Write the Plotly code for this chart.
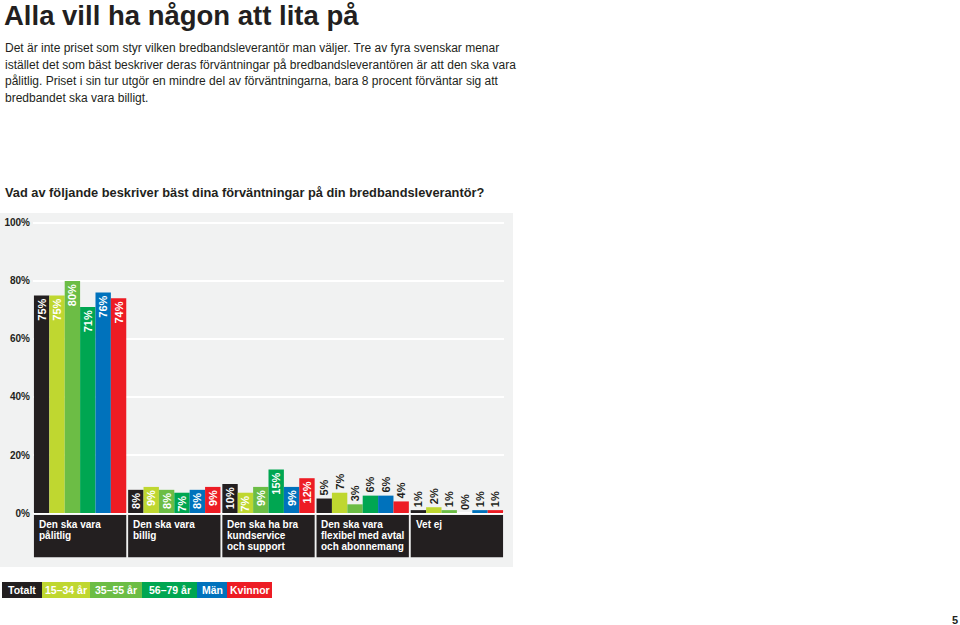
import plotly.graph_objects as go

# ---------------- data ----------------
categories = [
    "Den ska vara pålitlig",
    "Den ska vara billig",
    "Den ska ha bra kundservice och support",
    "Den ska vara flexibel med avtal och abonnemang",
    "Vet ej",
]
category_lines = [
    ["Den ska vara", "pålitlig"],
    ["Den ska vara", "billig"],
    ["Den ska ha bra", "kundservice", "och support"],
    ["Den ska vara", "flexibel med avtal", "och abonnemang"],
    ["Vet ej"],
]
series_names = ["Totalt", "15–34 år", "35–55 år", "56–79 år", "Män", "Kvinnor"]
totalt = [75, 8, 10, 5, 1]
age_15_34 = [75, 9, 7, 7, 2]
age_35_55 = [80, 8, 9, 3, 1]
age_56_79 = [71, 7, 15, 6, 0]
man = [76, 8, 9, 6, 1]
kvinnor = [74, 9, 12, 4, 1]
series_values = [totalt, age_15_34, age_35_55, age_56_79, man, kvinnor]
tick_values = [0, 20, 40, 60, 80, 100]
tick_labels = ["0%", "20%", "40%", "60%", "80%", "100%"]

title_text = "Alla vill ha någon att lita på"
intro_lines = [
    "Det är inte priset som styr vilken bredbandsleverantör man väljer. Tre av fyra svenskar menar",
    "istället det som bäst beskriver deras förväntningar på bredbandsleverantören är att den ska vara",
    "pålitlig. Priset i sin tur utgör en mindre del av förväntningarna, bara 8 procent förväntar sig att",
    "bredbandet ska vara billigt.",
]
question_text = "Vad av följande beskriver bäst dina förväntningar på din bredbandsleverantör?"
page_number = "5"

# ---------------- styles ----------------
W, H = 960, 625
colors = ["#231f20", "#bfd730", "#6cbd45", "#00a651", "#0072bc", "#ed1c24"]
DARK = "#231f20"
PANEL = "#f1f2f2"
FONT = "Liberation Sans"
text_pos = ["inside", "inside", "inside", "outside", "outside"]

plot_left, plot_right = 33, 504
plot_top, plot_bottom = 213, 567
panel_right = 513
y_range = [-18.6, 103.4]


def py(y_px):
    """pixel from top -> paper fraction"""
    return 1 - y_px / H


fig = go.Figure()
x_idx = list(range(len(categories)))
for name, vals, col in zip(series_names, series_values, colors):
    fig.add_trace(go.Bar(
        x=x_idx, y=vals, name=name,
        marker=dict(color=col, line=dict(width=0)),
        text=[f"{v}%" for v in vals],
        textposition=text_pos,
        insidetextanchor="end",
        textangle=-90,
        constraintext="none",
        cliponaxis=False,
        textfont=dict(family=FONT, size=11, weight="bold"),
        insidetextfont=dict(family=FONT, size=11, color="white", weight="bold"),
        outsidetextfont=dict(family=FONT, size=11, color=DARK, weight="bold"),
        hoverinfo="skip",
        showlegend=False,
    ))

shapes = []
annotations = []

# gray panel
shapes.append(dict(type="rect", xref="paper", yref="paper", x0=0, x1=panel_right / W,
                   y0=py(plot_bottom), y1=py(plot_top), fillcolor=PANEL,
                   line=dict(width=0), layer="below"))

# category boxes + labels
for i, lines in enumerate(category_lines):
    shapes.append(dict(type="rect", xref="x", yref="y", x0=i - 0.49, x1=i + 0.49,
                       y0=-0.7, y1=-15.2, fillcolor=DARK, line=dict(width=0), layer="above"))
    for k, ln in enumerate(lines):
        annotations.append(dict(
            x=i - 0.46, y=-1.4, xref="x", yref="y", xanchor="left", yanchor="top",
            yshift=-11 * k, text=ln, showarrow=False, align="left",
            font=dict(family=FONT, size=10, color="white", weight="bold")))

# title and intro
annotations.append(dict(x=2 / W, y=py(15), xref="paper", yref="paper", xanchor="left",
                        yanchor="middle", text=title_text, showarrow=False,
                        font=dict(family=FONT, size=27.5, color=DARK, weight="bold")))
for k, ln in enumerate(intro_lines):
    annotations.append(dict(x=3 / W, y=py(48 + 16.7 * k), xref="paper", yref="paper",
                            xanchor="left", yanchor="middle", text=ln, showarrow=False,
                            font=dict(family=FONT, size=12, color=DARK)))
annotations.append(dict(x=3 / W, y=py(193), xref="paper", yref="paper", xanchor="left",
                        yanchor="middle", text=question_text, showarrow=False,
                        font=dict(family=FONT, size=12.8, color=DARK, weight="bold")))

# legend boxes
legend_edges = [2, 42, 90, 142, 197, 227, 272]
leg_top, leg_bot = 582, 598
for j, name in enumerate(series_names):
    x0, x1 = legend_edges[j], legend_edges[j + 1]
    shapes.append(dict(type="rect", xref="paper", yref="paper", x0=x0 / W, x1=x1 / W,
                       y0=py(leg_bot), y1=py(leg_top), fillcolor=colors[j],
                       line=dict(width=0)))
    annotations.append(dict(x=(x0 + x1) / 2 / W, y=py((leg_top + leg_bot) / 2),
                            xref="paper", yref="paper", xanchor="center", yanchor="middle",
                            text=name, showarrow=False,
                            font=dict(family=FONT, size=10.5, color="white", weight="bold")))

annotations.append(dict(x=955 / W, y=py(620), xref="paper", yref="paper", xanchor="center",
                        yanchor="middle", text=page_number, showarrow=False,
                        font=dict(family=FONT, size=11, color=DARK, weight="bold")))

fig.update_layout(
    width=W, height=H,
    margin=dict(l=0, r=0, t=0, b=0, pad=0),
    paper_bgcolor="white",
    plot_bgcolor="rgba(0,0,0,0)",
    barmode="group",
    bargap=0.02,
    bargroupgap=0,
    showlegend=False,
    shapes=shapes,
    annotations=annotations,
    xaxis=dict(domain=[plot_left / W, plot_right / W], range=[-0.5, 4.5],
               showgrid=False, zeroline=False, showticklabels=False, showline=False,
               fixedrange=True),
    yaxis=dict(domain=[py(plot_bottom), py(plot_top)], range=y_range,
               tickvals=tick_values, ticktext=tick_labels,
               showgrid=True, gridcolor="white", gridwidth=2, zeroline=False,
               showline=False, ticks="", ticklabelstandoff=2,
               tickfont=dict(family=FONT, size=10, color=DARK, weight="bold"),
               fixedrange=True),
)

fig.write_html("out.html", config={"displayModeBar": False},
               post_script="document.body.style.margin='0px';")
